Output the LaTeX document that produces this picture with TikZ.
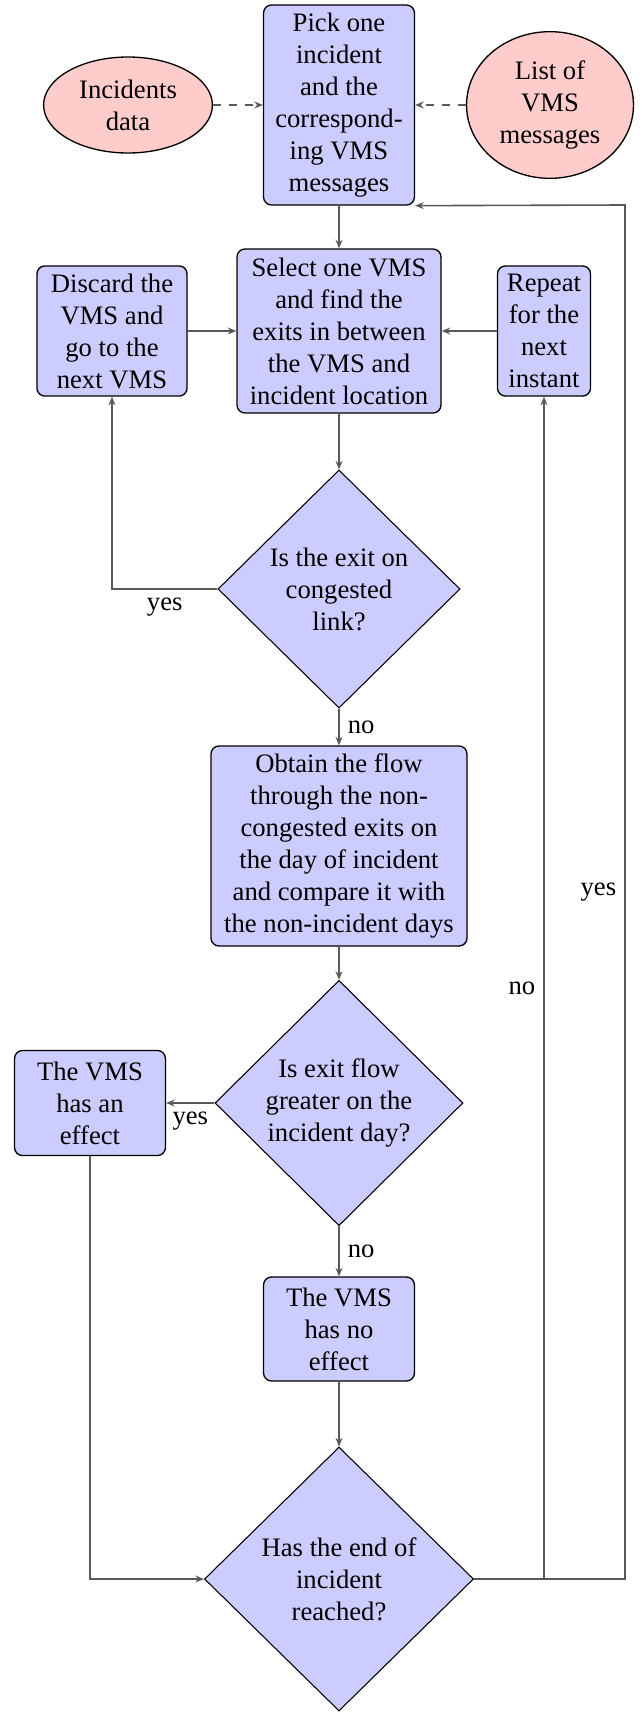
\documentclass[tikz,border=0pt]{standalone}
\usepackage{fontspec}
\setmainfont{Liberation Serif}
\usetikzlibrary{shapes.geometric,arrows.meta}
\begin{document}
\begin{tikzpicture}[x=0.375pt,y=-0.375pt,
  font=\fontsize{10}{12}\selectfont,
  procbox/.style={rectangle, rounded corners=3pt, draw=black, line width=0.5pt, fill=blue!20, align=center, inner sep=2pt},
  decision/.style={diamond, aspect=1, draw=black, line width=0.4pt, fill=blue!20, align=center, inner sep=0pt},
  datasrc/.style={ellipse, draw=black, line width=0.5pt, fill=red!20, align=center, inner sep=0pt},
  conn/.style={draw=black!65, line width=0.6pt, -{Stealth[length=3.2pt,width=2.6pt]}},
  dconn/.style={conn, dashed},
  lbl/.style={inner sep=3pt, text=black}
]
\useasboundingbox (0,0) rectangle (641,1712);

\node[procbox, minimum width=56.6pt, minimum height=75pt] (pick) at (339,105) {Pick one\\incident\\and the\\correspond-\\ing VMS\\messages};
\node[datasrc, minimum width=63.3pt, minimum height=36pt] (inc) at (128,105) {Incidents\\data};
\node[datasrc, minimum width=62.6pt, minimum height=55pt] (list) at (550,105) {List of\\VMS\\messages};

\node[procbox, minimum width=76.5pt, minimum height=61.5pt] (select) at (339,331) {Select one VMS\\and find the\\exits in between\\the VMS and\\incident location};
\node[procbox, minimum width=56.3pt, minimum height=48.8pt] (discard) at (112,331) {Discard the\\VMS and\\go to the\\next VMS};
\node[procbox, minimum width=34.9pt, minimum height=48.8pt] (repeat) at (544,331) {Repeat\\for the\\next\\instant};

\node[decision, minimum width=90.8pt, minimum height=89.3pt] (d1) at (339,589) {Is the exit on\\congested\\link?};

\node[procbox, minimum width=96pt, minimum height=75pt] (obtain) at (339,846) {Obtain the flow\\through the non-\\congested exits on\\the day of incident\\and compare it with\\the non-incident days};

\node[decision, minimum width=93pt, minimum height=92pt] (d2) at (339,1103) {Is exit flow\\greater on the\\incident day?};
\node[procbox, minimum width=56.6pt, minimum height=39.4pt] (effect) at (90,1103) {The VMS\\has an\\effect};

\node[procbox, minimum width=56.6pt, minimum height=39pt] (noeffect) at (339,1329) {The VMS\\has no\\effect};

\node[decision, minimum width=100.9pt, minimum height=99pt] (d3) at (339,1579) {Has the end of\\incident\\reached?};

\coordinate (c1) at (625,205);

\draw[dconn] (inc.east) -- (pick.west);
\draw[dconn] (list.west) -- (pick.east);
\draw[conn] (pick.south) -- (select.north);
\draw[conn] (select.south) -- (d1.north);
\draw[conn] (discard.east) -- (select.west);
\draw[conn] (repeat.west) -- (select.east);
\draw[conn] (d1.west) -| node[lbl, pos=0.25, below] {yes} (discard.south);
\draw[conn] (d1.south) -- node[lbl, midway, right] {no} (obtain.north);
\draw[conn] (obtain.south) -- (d2.north);
\draw[conn] (d2.west) -- node[lbl, midway, below] {yes} (effect.east);
\draw[conn] (d2.south) -- node[lbl, midway, right] {no} (noeffect.north);
\draw[conn] (noeffect.south) -- (d3.north);
\draw[conn] (effect.south) |- (d3.west);
\draw[conn] (d3.east) -| node[lbl, pos=0.75, left] {no} (repeat.south);
\draw[conn] (d3.east) -| node[lbl, pos=0.75, left] {yes} (c1) -- (pick.south east);
\end{tikzpicture}
\end{document}
